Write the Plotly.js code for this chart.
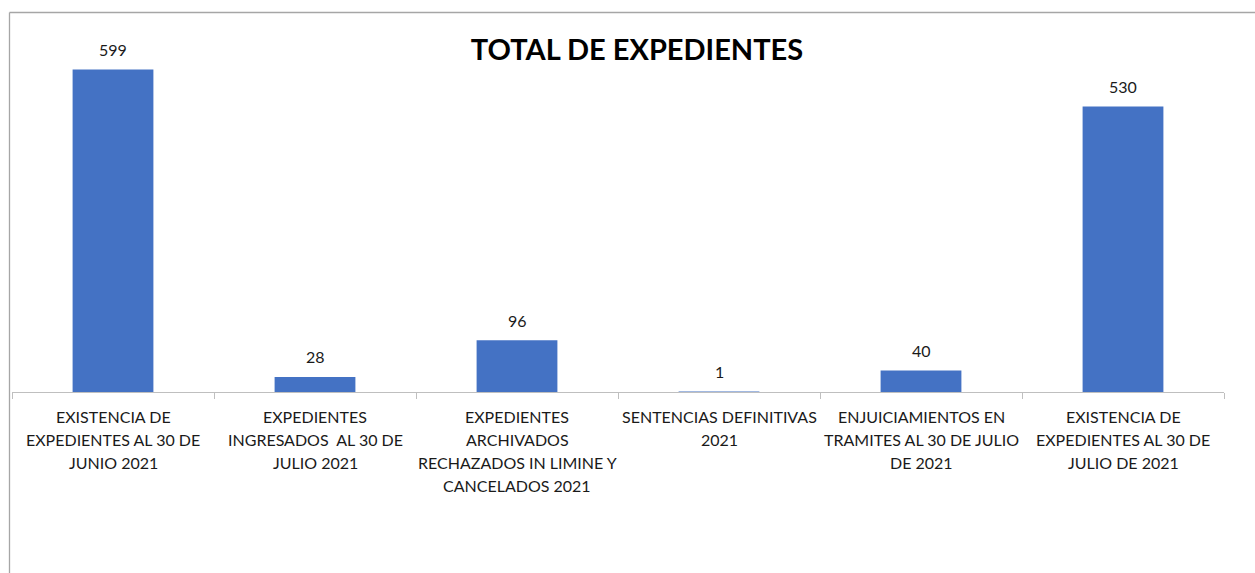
<!DOCTYPE html>
<html><head><meta charset="utf-8">
<script src="https://cdn.plot.ly/plotly-3.0.1.min.js"></script>
<style>body{margin:0;background:#fff}#c{width:1255px;height:573px}</style>
</head><body><div id="c"></div>
<script>
const categories = [
  "EXISTENCIA DE<br>EXPEDIENTES AL 30 DE<br>JUNIO 2021",
  "EXPEDIENTES<br>INGRESADOS  AL 30 DE<br>JULIO 2021",
  "EXPEDIENTES<br>ARCHIVADOS<br>RECHAZADOS IN LIMINE Y<br>CANCELADOS 2021",
  "SENTENCIAS DEFINITIVAS<br>2021",
  "ENJUICIAMIENTOS EN<br>TRAMITES AL 30 DE JULIO<br>DE 2021",
  "EXISTENCIA DE<br>EXPEDIENTES AL 30 DE<br>JULIO DE 2021"
];
const values = [599, 28, 96, 1, 40, 530];
const chartTitle = "TOTAL DE EXPEDIENTES";

const W = 1255, H = 573;
const mL = 12, mR = 31, mT = 15, mB = 181;
const plotW = W - mL - mR, plotH = H - mT - mB;
const FONT = "Lato, 'Liberation Sans', sans-serif";
const TXT = "#1a1a1a";

const annotations = [];
categories.forEach((c, i) => {
  c.split("<br>").forEach((line, j) => {
    annotations.push({
      x: i, xref: "x", y: 0, yref: "paper", yanchor: "middle",
      yshift: -24 - j * 23, text: line, showarrow: false,
      font: {family: FONT, size: 16, color: TXT}
    });
  });
});
values.forEach((v, i) => {
  annotations.push({
    x: i, xref: "x", y: v, yref: "y", yanchor: "middle", yshift: 20,
    text: String(v), showarrow: false,
    font: {family: FONT, size: 16, color: TXT}
  });
});

const px2x = p => (p - mL) / plotW;
const px2y = p => (H - mB - p) / plotH;
const shapes = [
  {type: "line", xref: "paper", yref: "paper", x0: px2x(9.5), x1: px2x(W + 5), y0: px2y(12.5), y1: px2y(12.5), line: {color: "#a6a6a6", width: 1.3}},
  {type: "line", xref: "paper", yref: "paper", x0: px2x(9.5), x1: px2x(9.5), y0: px2y(12.5), y1: px2y(H + 5), line: {color: "#a6a6a6", width: 1.3}}
];

const trace = {
  type: "bar", x: categories.map((_, i) => i), y: values,
  marker: {color: "#4472C4"},
  hoverinfo: "none"
};

const layout = {
  width: W, height: H,
  margin: {l: mL, r: mR, t: mT, b: mB, pad: 0},
  paper_bgcolor: "#fff", plot_bgcolor: "#fff",
  showlegend: false, bargap: 0.6,
  title: {text: "<b>" + chartTitle + "</b>", x: 637 / W, xref: "container", xanchor: "center",
          y: 1 - 50 / H, yref: "container", yanchor: "middle",
          font: {family: FONT, size: 29, color: "#000"}},
  xaxis: {type: "linear", range: [-0.5, 5.5], showticklabels: false, tickmode: "array",
          tickvals: [-0.5, 0.5, 1.5, 2.5, 3.5, 4.5, 5.5], ticks: "outside", ticklen: 6,
          tickcolor: "#bfbfbf", showline: true, linecolor: "#bfbfbf", linewidth: 1.3,
          showgrid: false, zeroline: false, fixedrange: true},
  yaxis: {range: [0, 700], visible: false, showgrid: false, zeroline: false, fixedrange: true},
  annotations: annotations, shapes: shapes
};

Plotly.newPlot("c", [trace], layout, {displayModeBar: false, staticPlot: true});
</script></body></html>
